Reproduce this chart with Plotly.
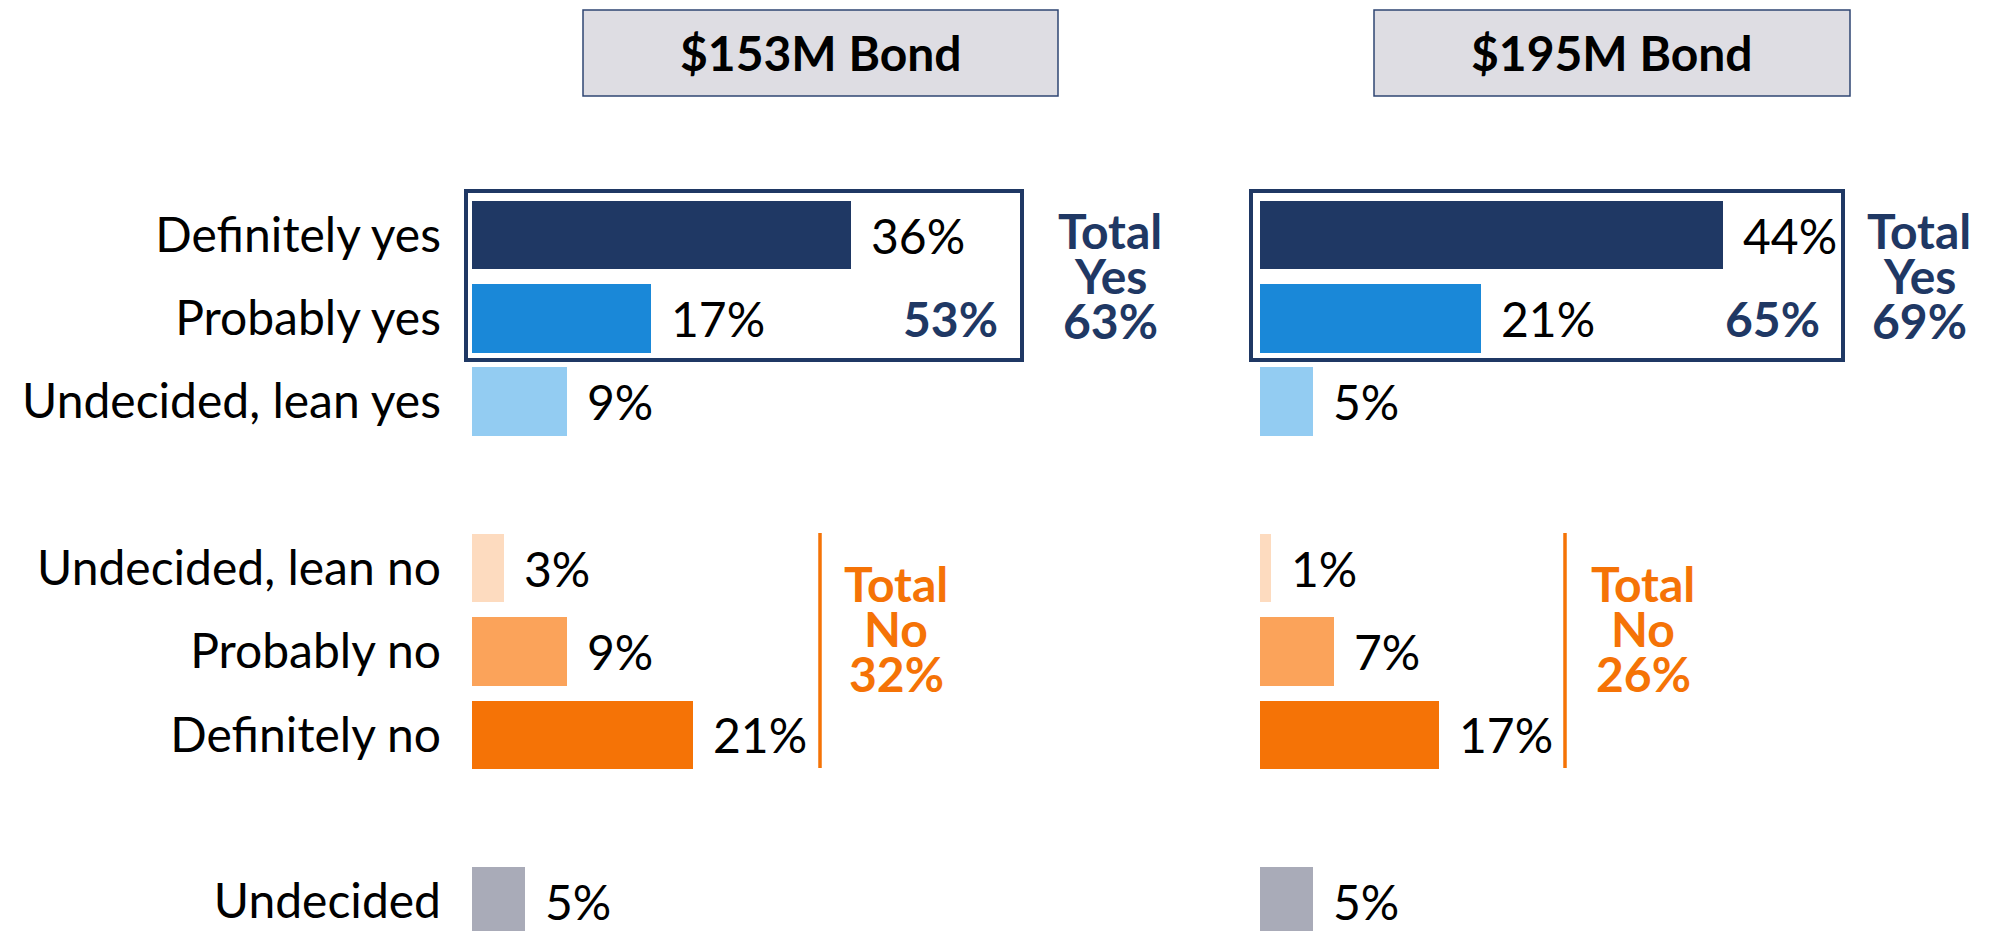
import plotly.graph_objects as go

# ---- data ----
categories = ["Definitely yes", "Probably yes", "Undecided, lean yes",
              "Undecided, lean no", "Probably no", "Definitely no", "Undecided"]
bond_153 = [36, 17, 9, 3, 9, 21, 5]
bond_195 = [44, 21, 5, 1, 7, 17, 5]
panel_titles = ["$153M Bond", "$195M Bond"]
yes_subtotal = [53, 65]
total_yes = [63, 69]
total_no = [32, 26]

# ---- styles ----
bar_colors = ["#1F3864", "#1A88D8", "#93CCF2", "#FDDBBF", "#FBA35A", "#F57306", "#A9ABB8"]
NAVY = "#1F3864"
ORANGE = "#F57306"
FONT = "Lato"
FS = 48
OFF = 8                      # page body margin
W, H = 1991 - OFF, 931 - OFF
PX_PER_PCT = 10.53

# category order including spacer rows
order = ["Definitely yes", "Probably yes", "Undecided, lean yes", " ",
         "Undecided, lean no", "Probably no", "Definitely no", "  ", "Undecided"]

row0, row_step = 235.0 - OFF, 83.33
y_top = -row0 / row_step
y_bot = (H - row0) / row_step


def px(x):
    return (x - OFF) / W


def py(y):
    return 1 - (y - OFF) / H


fig = go.Figure()
L0, R0 = 472, 1260
panels = [(bond_153, "x"), (bond_195, "x2")]
for vals, xa in panels:
    fig.add_trace(go.Bar(
        x=vals, y=categories, orientation="h", xaxis=xa, yaxis="y",
        marker=dict(color=bar_colors, line=dict(width=0)), width=0.82,
        hoverinfo="skip", showlegend=False))

annotations = []
for vals, xa in panels:
    for c, v in zip(categories, vals):
        annotations.append(dict(x=v, y=c, xref=xa, yref="y", text=f"{v}%",
                                xanchor="left", yanchor="middle", xshift=18,
                                showarrow=False,
                                font=dict(family=FONT, size=FS, color="#000000")))

shapes = []
# title boxes
title_boxes = [(583, 1058), (1374, 1850)]
for (x0, x1), t in zip(title_boxes, panel_titles):
    shapes.append(dict(type="rect", xref="paper", yref="paper",
                       x0=px(x0), x1=px(x1), y0=py(96), y1=py(10),
                       fillcolor="#DEDDE3", line=dict(color="#2F4573", width=1.5)))
    annotations.append(dict(x=px((x0 + x1) / 2), y=py(53), xref="paper", yref="paper",
                            text=f"<b>{t}</b>", showarrow=False,
                            xanchor="center", yanchor="middle",
                            font=dict(family=FONT, size=FS, color="#000000")))

# yes boxes
yes_boxes = [(466, 1022), (1251, 1843)]
for x0, x1 in yes_boxes:
    shapes.append(dict(type="rect", xref="paper", yref="paper",
                       x0=px(x0), x1=px(x1), y0=py(360), y1=py(191),
                       fillcolor="rgba(0,0,0,0)", line=dict(color=NAVY, width=4)))

# subtotal labels inside yes box
sub_right = [1000, 1822]
for xr, v in zip(sub_right, yes_subtotal):
    annotations.append(dict(x=px(xr), y=py(318), xref="paper", yref="paper",
                            text=f"<b>{v}%</b>", showarrow=False,
                            xanchor="right", yanchor="middle",
                            font=dict(family=FONT, size=FS, color=NAVY)))

# total yes blocks
ty_x = [1110, 1919]
for xc, v in zip(ty_x, total_yes):
    for line, yc in zip(["Total", "Yes", f"{v}%"], [230, 275, 320]):
        annotations.append(dict(x=px(xc), y=py(yc), xref="paper", yref="paper",
                                text=f"<b>{line}</b>", showarrow=False,
                                xanchor="center", yanchor="middle",
                                font=dict(family=FONT, size=FS, color=NAVY)))

# total no lines and blocks
no_line_x = [820, 1565]
tn_x = [896, 1643]
for xl, xc, v in zip(no_line_x, tn_x, total_no):
    shapes.append(dict(type="line", xref="paper", yref="paper",
                       x0=px(xl), x1=px(xl), y0=py(533), y1=py(768),
                       line=dict(color=ORANGE, width=3.5)))
    for line, yc in zip(["Total", "No", f"{v}%"], [583, 628, 673]):
        annotations.append(dict(x=px(xc), y=py(yc), xref="paper", yref="paper",
                                text=f"<b>{line}</b>", showarrow=False,
                                xanchor="center", yanchor="middle",
                                font=dict(family=FONT, size=FS, color=ORANGE)))

LX1 = 1200
fig.update_layout(
    width=W, height=H,
    margin=dict(l=0, r=0, t=0, b=0),
    paper_bgcolor="white", plot_bgcolor="white",
    bargap=0,
    xaxis=dict(domain=[px(L0), px(LX1)], range=[0, (LX1 - L0) / PX_PER_PCT],
               visible=False, anchor="y"),
    xaxis2=dict(domain=[px(R0), 1.0], range=[0, (1991 - R0) / PX_PER_PCT],
                visible=False, anchor="y"),
    yaxis=dict(type="category", categoryorder="array", categoryarray=order,
               range=[y_bot, y_top], anchor="x", showgrid=False, zeroline=False,
               showline=False, ticks="", ticklabelstandoff=30,
               tickfont=dict(family=FONT, size=FS, color="#000000")),
    shapes=shapes,
    annotations=annotations,
)

fig.write_html("out.html")
